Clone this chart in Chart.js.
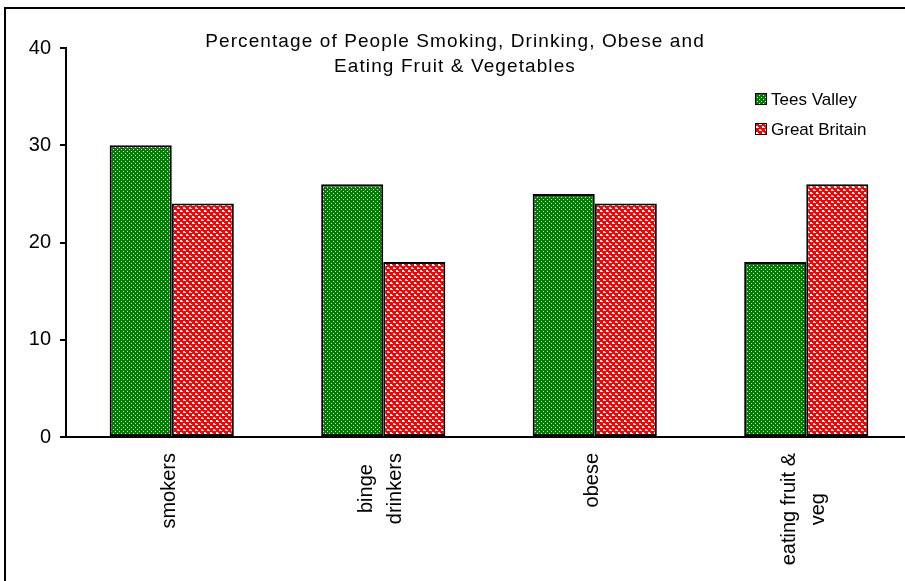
<!DOCTYPE html>
<html>
<head>
<meta charset="utf-8">
<script src="https://cdn.jsdelivr.net/npm/chart.js@4"></script>
<style>
  html, body { margin: 0; padding: 0; background: #fff; overflow: hidden; }
  #wrap { position: absolute; left: 0; top: 0; width: 920px; height: 581px; }
</style>
</head>
<body>
<div id="wrap"><canvas id="c" width="920" height="581"></canvas></div>
<script>
// Survey categories and percentages
const categories = [['smokers'], ['binge', 'drinkers'], ['obese'], ['eating fruit &', 'veg']];
const teesValley = [30, 26, 25, 18];
const greatBritain = [24, 18, 24, 26];
const yTicks = [0, 10, 20, 30, 40];
const seriesNames = ['Tees Valley', 'Great Britain'];
const titleLines = ['Percentage of People Smoking, Drinking, Obese and', 'Eating Fruit & Vegetables'];

const FONT = '"Liberation Sans", Arial, sans-serif';

// Green fill with a fine grid of white dots
function dottedGreen() {
  const t = document.createElement('canvas');
  t.width = 4; t.height = 4;
  const g = t.getContext('2d');
  g.fillStyle = '#008000';
  g.fillRect(0, 0, 4, 4);
  g.fillStyle = '#ffffff';
  g.fillRect(1, 1, 1, 1);
  g.fillRect(3, 3, 1, 1);
  return g.createPattern(t, 'repeat');
}

// Red fill with small white cells on a staggered lattice
function latticeRed() {
  const t = document.createElement('canvas');
  t.width = 6; t.height = 6;
  const g = t.getContext('2d');
  g.fillStyle = '#ff0000';
  g.fillRect(0, 0, 6, 6);
  g.fillStyle = '#ffffff';
  g.fillRect(0, 0, 2, 2);
  g.fillRect(3, 3, 2, 2);
  g.fillRect(2, 1, 1, 1);
  g.fillRect(5, 4, 1, 1);
  return g.createPattern(t, 'repeat');
}

const ctx0 = document.getElementById('c').getContext('2d');
const greenFill = dottedGreen();
const redFill = latticeRed();

const framePlugin = {
  id: 'frame',
  afterDraw(chart) {
    const c = chart.ctx;
    c.save();
    // outer frame
    c.strokeStyle = '#000';
    c.lineWidth = 2;
    c.strokeRect(5, 8, 1000, 1000);

    // title
    c.fillStyle = '#000';
    c.font = '19px ' + FONT;
    c.letterSpacing = '1.1px';
    c.textAlign = 'center';
    c.textBaseline = 'alphabetic';
    c.fillText(titleLines[0], 455, 47);
    c.fillText(titleLines[1], 455, 72);
    c.letterSpacing = '0px';

    // legend
    const fills = [greenFill, redFill];
    c.font = '17px ' + FONT;
    c.textAlign = 'left';
    c.textBaseline = 'middle';
    for (let i = 0; i < seriesNames.length; i++) {
      const y = 99 + i * 30;
      c.fillStyle = fills[i];
      c.fillRect(755, y - 6, 12, 12);
      c.strokeStyle = '#000';
      c.lineWidth = 1;
      c.strokeRect(755.5, y - 5.5, 11, 11);
      c.fillStyle = '#000';
      c.fillText(seriesNames[i], 771, y + 1);
    }

    // category labels, rotated, each line centred on the longest one
    const xs = chart.scales.x;
    const top = xs.top + 16;
    c.font = '20px ' + FONT;
    c.textAlign = 'center';
    c.textBaseline = 'middle';
    const lh = 29;
    categories.forEach((lines, i) => {
      const cx = xs.getPixelForTick(i) - 2;
      const maxW = Math.max(...lines.map(l => c.measureText(l).width));
      const cy = top + maxW / 2;
      lines.forEach((line, j) => {
        const off = (j - (lines.length - 1) / 2) * lh;
        c.save();
        c.translate(cx + off, cy);
        c.rotate(-Math.PI / 2);
        c.fillText(line, 0, 0);
        c.restore();
      });
    });
    c.restore();
  }
};

new Chart(ctx0, {
  type: 'bar',
  data: {
    labels: categories,
    datasets: [
      { label: seriesNames[0], data: teesValley, backgroundColor: greenFill,
        borderColor: '#000', borderWidth: 2, borderSkipped: false },
      { label: seriesNames[1], data: greatBritain, backgroundColor: redFill,
        borderColor: '#000', borderWidth: 2, borderSkipped: false }
    ]
  },
  options: {
    responsive: false,
    animation: false,
    events: [],
    layout: { padding: { top: 48, right: 8, left: 0, bottom: 0 } },
    datasets: { bar: { categoryPercentage: 0.587, barPercentage: 1.0 } },
    plugins: { legend: { display: false }, title: { display: false }, tooltip: { enabled: false } },
    scales: {
      x: {
        grid: { display: false },
        border: { display: true, color: '#000', width: 2 },
        ticks: { display: false },
        afterFit(s) { s.height = 581 - 437; }
      },
      y: {
        min: 0, max: 40,
        afterBuildTicks(s) { s.ticks = yTicks.map(v => ({ value: v })); },
        grid: { display: true, drawOnChartArea: false, drawTicks: true, tickLength: 6, color: '#000', lineWidth: 2 },
        border: { display: true, color: '#000', width: 2 },
        ticks: { color: '#000', font: { family: FONT, size: 20 }, padding: 9 },
        afterFit(s) { s.width = 66; }
      }
    }
  },
  plugins: [framePlugin]
});
</script>
</body>
</html>
